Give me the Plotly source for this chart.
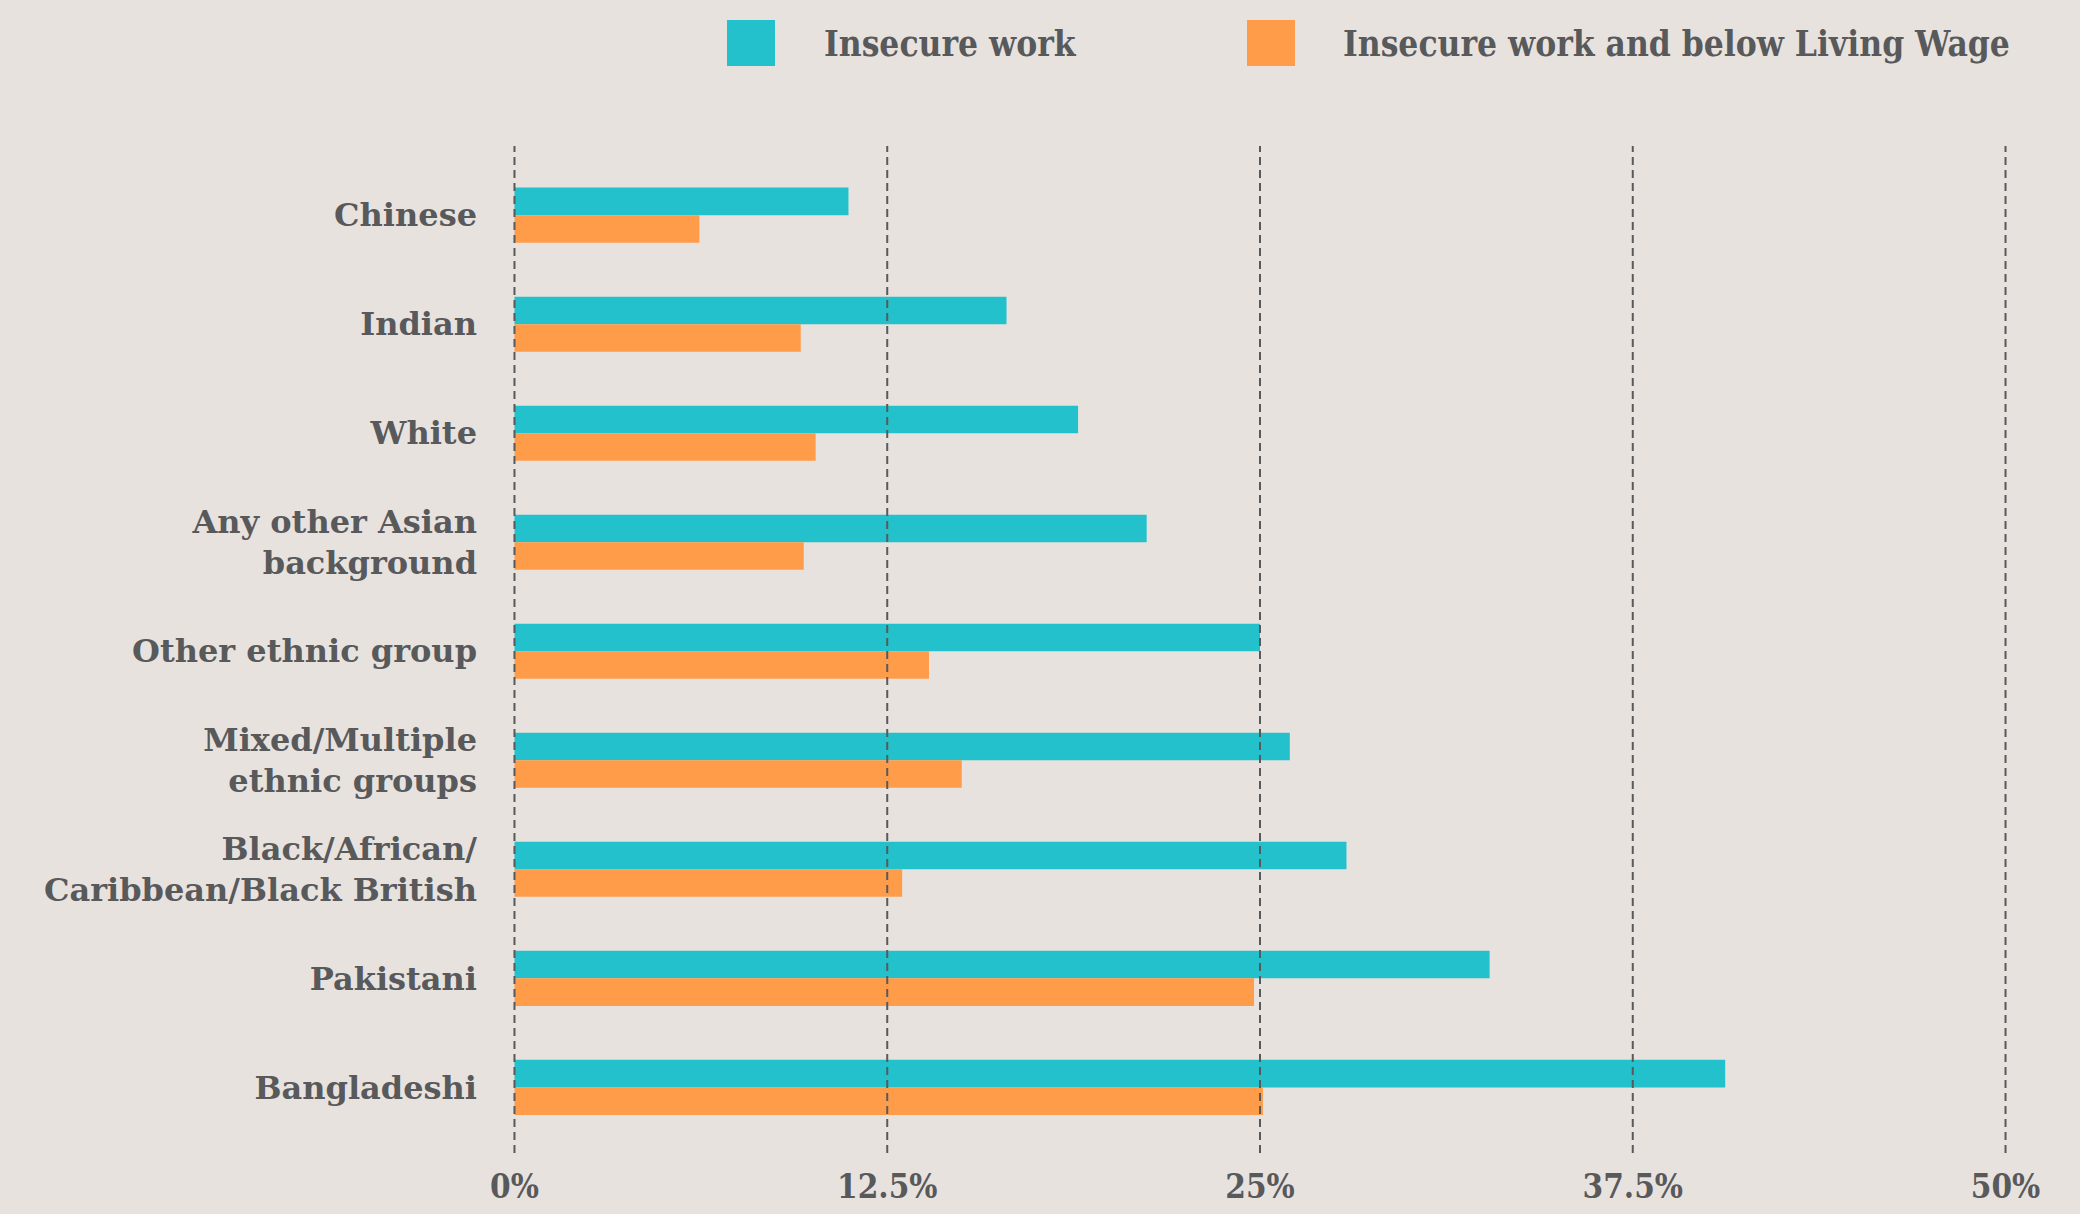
import plotly.graph_objects as go

# ---- data ----
categories = [
    "Chinese",
    "Indian",
    "White",
    "Any other Asian<br>background",
    "Other ethnic group",
    "Mixed/Multiple<br>ethnic groups",
    "Black/African/<br>Caribbean/Black British",
    "Pakistani",
    "Bangladeshi",
]
insecure_work = [11.2, 16.5, 18.9, 21.2, 25.0, 26.0, 27.9, 32.7, 40.6]
insecure_below_living_wage = [6.2, 9.6, 10.1, 9.7, 13.9, 15.0, 13.0, 24.8, 25.1]
series_names = ["Insecure work", "Insecure work and below Living Wage"]
series_colors = ["#22c1cc", "#ff9c4a"]
tick_vals = [0, 12.5, 25, 37.5, 50]
tick_text = ["0%", "12.5%", "25%", "37.5%", "50%"]

# ---- layout constants ----
W, H = 2080, 1214
ML, MR, MT, MB = 510, 70, 146, 66
PW, PH = W - ML - MR, H - MT - MB
BG = "#e8e2df"
TXT = "#58595b"
GRID = "#58595b"
LABEL_FONT = "DejaVu Serif"
COND_FONT = "DejaVu Serif Condensed, DejaVu Serif"


def px2x(px):
    return (px - ML) / PW


def px2y(py):
    return (H - MB - py) / PH


fig = go.Figure()
for name, vals, col in zip(series_names, [insecure_work, insecure_below_living_wage], series_colors):
    fig.add_trace(
        go.Bar(
            x=vals,
            y=categories,
            orientation="h",
            name=name,
            marker=dict(color=col, line=dict(width=0)),
            showlegend=False,
        )
    )

# dashed gridlines drawn above the bars, one per tick value
shapes = []
for v in tick_vals:
    shapes.append(
        dict(
            type="line",
            xref="x",
            yref="paper",
            x0=v,
            x1=v,
            y0=px2y(1153),
            y1=1,
            line=dict(color=GRID, width=2, dash="8px,5px"),
            layer="above",
        )
    )

# custom legend (large swatches)
legend_swatch_px = [727, 1247]
legend_text_px = [822, 1341]
annotations = []
for name, col, sx, tx in zip(series_names, series_colors, legend_swatch_px, legend_text_px):
    shapes.append(
        dict(
            type="rect",
            xref="paper",
            yref="paper",
            x0=px2x(sx),
            x1=px2x(sx + 48),
            y0=px2y(66),
            y1=px2y(20),
            fillcolor=col,
            line=dict(width=0),
        )
    )
    annotations.append(
        dict(
            text=name,
            xref="paper",
            yref="paper",
            x=px2x(tx),
            y=px2y(44),
            xanchor="left",
            yanchor="middle",
            showarrow=False,
            font=dict(family=COND_FONT, size=35, color=TXT, weight="bold"),
        )
    )

fig.update_layout(
    width=W,
    height=H,
    margin=dict(l=ML, r=MR, t=MT, b=MB, pad=0, autoexpand=False),
    paper_bgcolor=BG,
    plot_bgcolor=BG,
    barmode="group",
    bargap=0.495,
    bargroupgap=0,
    shapes=shapes,
    annotations=annotations,
    showlegend=False,
    xaxis=dict(
        range=[-0.15, 50.15],
        tickvals=tick_vals,
        ticktext=tick_text,
        showgrid=False,
        zeroline=False,
        showline=False,
        ticks="",
        ticklabelstandoff=16,
        automargin=False,
        tickfont=dict(family=COND_FONT, size=33, color=TXT, weight="bold"),
        fixedrange=True,
    ),
    yaxis=dict(
        type="category",
        categoryorder="array",
        categoryarray=categories,
        range=[8.556, -0.634],
        showgrid=False,
        zeroline=False,
        showline=False,
        ticks="",
        ticklabelstandoff=32,
        automargin=False,
        tickfont=dict(family=LABEL_FONT, size=32, color=TXT, weight="bold"),
        fixedrange=True,
    ),
)

fig.write_html("out.html")
